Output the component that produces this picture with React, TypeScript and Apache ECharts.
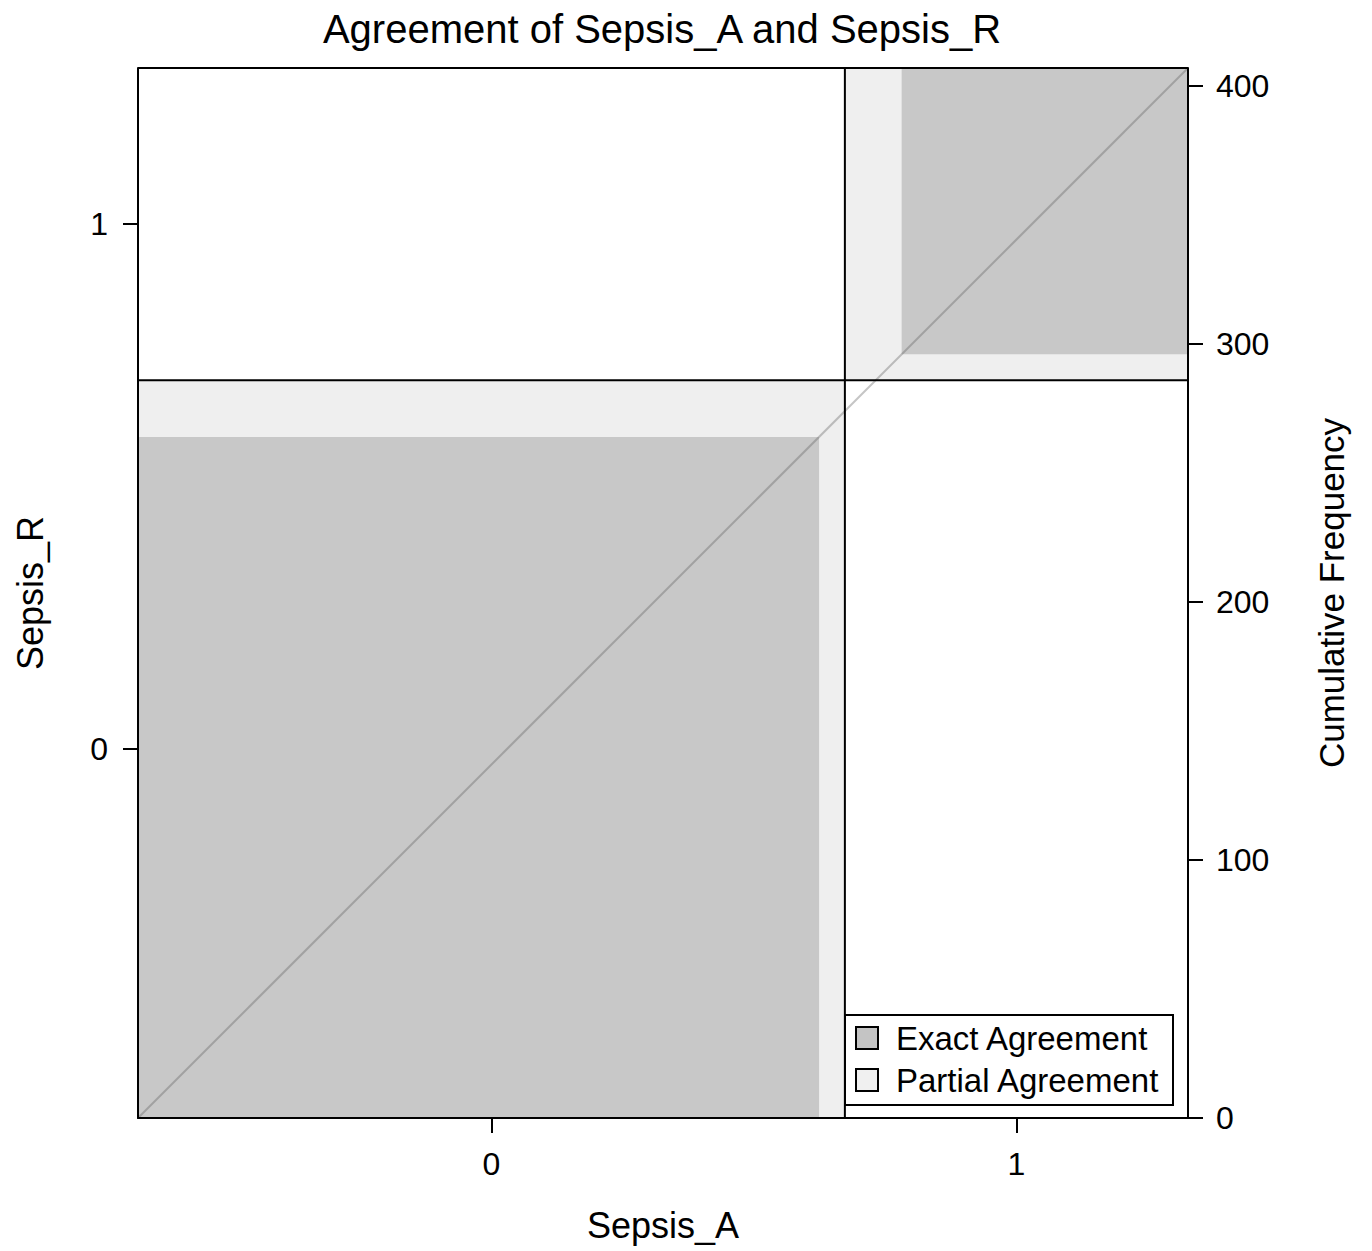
import React, { useEffect, useRef } from 'react';
import * as echarts from 'echarts';

// Category levels of both raters
const categories = ['0', '1'];
// Agreement table: rows = Sepsis_R level, columns = Sepsis_A level
const rowR0 = [264, 22];
const rowR1 = [10, 111];
// Right axis tick values (cumulative frequency)
const rightTicks = [0, 100, 200, 300, 400];
const legendLabels = ['Exact Agreement', 'Partial Agreement'];

const FONT = "'Liberation Sans', Arial, Helvetica, sans-serif";

export default function App() {
  const ref = useRef<HTMLDivElement>(null);

  useEffect(() => {
    if (!ref.current) return;
    document.body.style.margin = '0';
    const chart = echarts.init(ref.current, undefined, { renderer: 'svg' });

    const table = [rowR0, rowR1];
    const k = categories.length;
    const colTot = categories.map((_, j) => table.reduce((s, r) => s + r[j], 0));
    const rowTot = table.map((r) => r.reduce((s, v) => s + v, 0));
    const N = rowTot.reduce((a, b) => a + b, 0);
    const cx: number[] = [0];
    colTot.forEach((v) => cx.push(cx[cx.length - 1] + v));
    const cy: number[] = [0];
    rowTot.forEach((v) => cy.push(cy[cy.length - 1] + v));

    const blocks = categories.map((_, i) => [cx[i], cy[i], cx[i + 1], cy[i + 1]]);
    const exact = categories.map((_, i) => {
      let ox = 0;
      for (let r = 0; r < i; r++) ox += table[r][i];
      let oy = 0;
      for (let c = 0; c < i; c++) oy += table[i][c];
      const x0 = cx[i] + ox;
      const y0 = cy[i] + oy;
      return [x0, y0, x0 + table[i][i], y0 + table[i][i]];
    });
    const xMid = categories.map((_, i) => (cx[i] + cx[i + 1]) / 2);
    const yMid = categories.map((_, i) => (cy[i] + cy[i + 1]) / 2);

    const boundaries: number[][] = [];
    cx.forEach((v) => boundaries.push([v, 0, v, N]));
    cy.forEach((v) => boundaries.push([0, v, N, v]));

    const rectRender = (fill: string) => (params: any, api: any) => {
      const p0 = api.coord([api.value(0), api.value(3)]);
      const p1 = api.coord([api.value(2), api.value(1)]);
      return {
        type: 'rect',
        shape: { x: p0[0], y: p0[1], width: p1[0] - p0[0], height: p1[1] - p0[1] },
        style: { fill },
      };
    };

    const nearestLabel = (mids: number[]) => (v: number) => {
      let best = 0;
      mids.forEach((m, i) => {
        if (Math.abs(m - v) < Math.abs(mids[best] - v)) best = i;
      });
      return categories[best];
    };

    const axisCommon = {
      axisLine: { show: true, lineStyle: { color: '#000', width: 2 } },
      axisTick: { show: true, length: 15, lineStyle: { color: '#000', width: 2 } },
      splitLine: { show: false },
    };

    const option: any = {
      animation: false,
      backgroundColor: '#fff',
      textStyle: { fontFamily: FONT },
      grid: { left: 138, top: 68, width: 1050, height: 1050, containLabel: false },
      xAxis: {
        type: 'value',
        min: 0,
        max: N,
        ...axisCommon,
        axisTick: { ...axisCommon.axisTick, customValues: xMid },
        axisLabel: {
          customValues: xMid,
          formatter: nearestLabel(xMid),
          fontSize: 32,
          color: '#000',
          margin: 30,
          fontFamily: FONT,
        },
        name: 'Sepsis_A',
        nameLocation: 'middle',
        nameGap: 89,
        nameTextStyle: { fontSize: 36, color: '#000', fontFamily: FONT },
      },
      yAxis: [
        {
          type: 'value',
          min: 0,
          max: N,
          position: 'left',
          ...axisCommon,
          axisTick: { ...axisCommon.axisTick, customValues: yMid },
          axisLabel: {
            customValues: yMid,
            formatter: nearestLabel(yMid),
            fontSize: 32,
            color: '#000',
            margin: 30,
            fontFamily: FONT,
          },
          name: 'Sepsis_R',
          nameLocation: 'middle',
          nameRotate: 90,
          nameGap: 90,
          nameTextStyle: { fontSize: 36, color: '#000', fontFamily: FONT },
        },
        {
          type: 'value',
          min: 0,
          max: N,
          position: 'right',
          ...axisCommon,
          axisTick: { ...axisCommon.axisTick, customValues: rightTicks },
          axisLabel: {
            customValues: rightTicks,
            fontSize: 32,
            color: '#000',
            margin: 28,
            fontFamily: FONT,
          },
          name: 'Cumulative Frequency',
          nameLocation: 'middle',
          nameRotate: 90,
          nameGap: 126,
          nameTextStyle: { fontSize: 35, color: '#000', fontFamily: FONT },
        },
      ],
      series: [
        {
          name: legendLabels[1],
          type: 'custom',
          renderItem: rectRender('#efefef'),
          encode: { x: [0, 2], y: [1, 3] },
          data: blocks,
          z: 1,
          silent: true,
        },
        {
          name: legendLabels[0],
          type: 'custom',
          renderItem: rectRender('#c8c8c8'),
          encode: { x: [0, 2], y: [1, 3] },
          data: exact,
          z: 2,
          silent: true,
        },
        {
          name: 'diagonal',
          type: 'line',
          data: [
            [0, 0],
            [N, N],
          ],
          symbol: 'none',
          lineStyle: { color: 'rgba(90,90,90,0.35)', width: 2 },
          z: 3,
          silent: true,
        },
        {
          name: 'boundaries',
          type: 'custom',
          renderItem: (params: any, api: any) => {
            const p0 = api.coord([api.value(0), api.value(1)]);
            const p1 = api.coord([api.value(2), api.value(3)]);
            return {
              type: 'line',
              shape: { x1: p0[0], y1: p0[1], x2: p1[0], y2: p1[1] },
              style: { stroke: '#000', lineWidth: 2 },
            };
          },
          encode: { x: [0, 2], y: [1, 3] },
          data: boundaries,
          clip: false,
          z: 4,
          silent: true,
        },
      ],
      graphic: [
        {
          type: 'text',
          x: 662,
          y: 29,
          style: {
            text: 'Agreement of Sepsis_A and Sepsis_R',
            fontSize: 40,
            fontFamily: FONT,
            fill: '#000',
            textAlign: 'center',
            textVerticalAlign: 'middle',
          },
          z: 10,
        },
        {
          type: 'group',
          x: 845,
          y: 1015,
          z: 10,
          children: [
            {
              type: 'rect',
              shape: { x: 0, y: 0, width: 328, height: 90 },
              style: { fill: '#fff', stroke: '#000', lineWidth: 2 },
            },
            {
              type: 'rect',
              shape: { x: 11, y: 12, width: 22, height: 22 },
              style: { fill: '#c4c4c4', stroke: '#000', lineWidth: 2 },
            },
            {
              type: 'text',
              x: 51,
              y: 23,
              style: {
                text: legendLabels[0],
                fontSize: 33,
                fontFamily: FONT,
                fill: '#000',
                textVerticalAlign: 'middle',
              },
            },
            {
              type: 'rect',
              shape: { x: 11, y: 54, width: 22, height: 22 },
              style: { fill: '#f0f0f0', stroke: '#000', lineWidth: 2 },
            },
            {
              type: 'text',
              x: 51,
              y: 65,
              style: {
                text: legendLabels[1],
                fontSize: 33,
                fontFamily: FONT,
                fill: '#000',
                textVerticalAlign: 'middle',
              },
            },
          ],
        },
      ],
    };

    chart.setOption(option);
    return () => chart.dispose();
  }, []);

  return (
    <div
      ref={ref}
      style={{ position: 'absolute', left: 0, top: 0, width: 1372, height: 1251 }}
    />
  );
}
